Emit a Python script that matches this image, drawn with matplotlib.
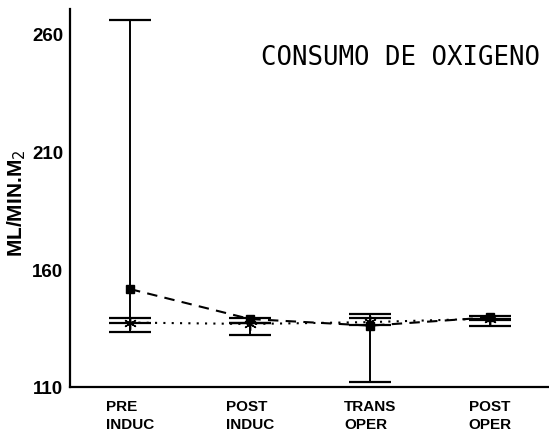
import numpy as np
import matplotlib.pyplot as plt

categories = ['PRE\nINDUC', 'POST\nINDUC', 'TRANS\nOPER', 'POST\nOPER']

# serie con cuadros (linea de trazos)
mean_a = [151.5, 138.8, 136.0, 139.5]
low_a = [133.4, 137.3, 112.2, 138.5]
high_a = [265.6, 139.1, 140.8, 139.9]

# serie con asteriscos (linea punteada)
mean_b = [137.3, 136.7, 137.5, 139.0]
low_b = [137.3, 132.0, 136.3, 135.7]
high_b = [139.1, 137.3, 139.1, 139.0]

yticks = [110, 160, 210, 260]

x = np.arange(len(categories))

fig = plt.figure(figsize=(5.49, 4.31), dpi=100)
ax = fig.add_axes([0.1275, 0.0998, 0.8725, 0.877])

ma = np.array(mean_a)
mb = np.array(mean_b)
err_a = [ma - np.array(low_a), np.array(high_a) - ma]
err_b = [mb - np.array(low_b), np.array(high_b) - mb]

ax.errorbar(x, mean_a, yerr=err_a, fmt='s', color='black', markersize=6,
            ecolor='black', elinewidth=1.4, capsize=15, capthick=1.6)
ax.plot(x, mean_a, color='black', linestyle=(0, (5, 3.5)), linewidth=1.5)

ax.errorbar(x, mean_b, yerr=err_b, fmt='none', ecolor='black',
            elinewidth=1.4, capsize=15, capthick=1.6)
ax.plot(x, mean_b, color='black', linestyle=(0, (1, 3)), linewidth=1.5,
        marker=(6, 2, 0), markersize=9, markeredgewidth=1.0)

ax.set_xlim(-0.5, 3.49)
ax.set_ylim(110, 270.2)

ax.spines['top'].set_visible(False)
ax.spines['right'].set_visible(False)
ax.spines['left'].set_linewidth(1.6)
ax.spines['bottom'].set_linewidth(1.6)

ax.set_yticks(yticks)
ax.set_yticklabels([str(v) for v in yticks], fontsize=13.5, fontweight='bold',
                   family='Liberation Sans')
ax.set_xticks(x)
ax.set_xticklabels(categories, fontsize=11, fontweight='bold',
                   family='Liberation Sans', linespacing=1.3,
                   multialignment='left')
ax.tick_params(axis='both', length=0)
ax.tick_params(axis='y', pad=5)
ax.tick_params(axis='x', pad=9)

ax.set_ylabel('ML/MIN.M$_2$', fontsize=15, fontweight='bold',
              family='Liberation Sans')
ax.yaxis.set_label_coords(-0.088, 0.49)

fig.text(0.729, 0.865, 'CONSUMO DE OXIGENO', fontsize=18.5,
         family='DejaVu Sans Mono', ha='center', va='center')

plt.savefig('out.png', dpi=100)
